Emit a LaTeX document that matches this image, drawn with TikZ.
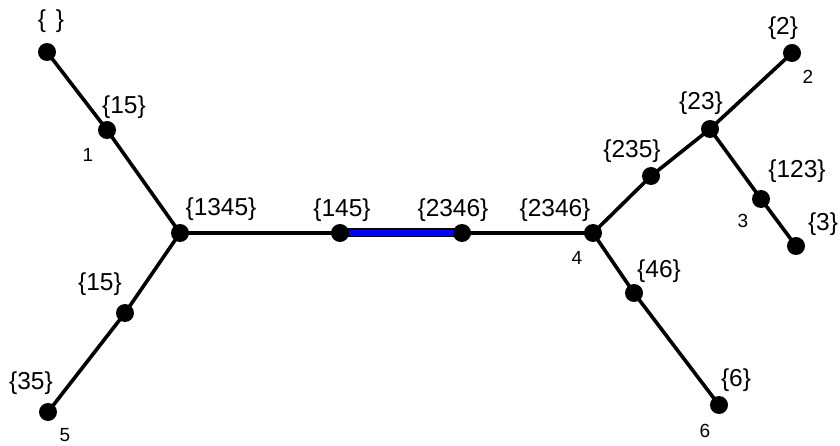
\documentclass[tikz,border=0pt]{standalone}
\usepackage{fontspec}
\setmainfont{Liberation Sans}
\begin{document}
\begin{tikzpicture}[x=1pt,y=-1pt,
  dot/.style={circle,fill=black,inner sep=0pt,minimum size=18pt},
  lab/.style={font=\fontsize{24.5}{28}\selectfont,inner sep=0pt},
  num/.style={font=\fontsize{19}{22}\selectfont,inner sep=0pt},
  edge/.style={line width=3.6pt,black},
  hedge/.style={line width=6pt,blue}]
\useasboundingbox (0,0) rectangle (840,446);
\coordinate (a) at (47,52);
\coordinate (b) at (107,130);
\coordinate (c) at (180,233);
\coordinate (d) at (125,313);
\coordinate (e) at (48,412);
\coordinate (f) at (340,233);
\coordinate (g) at (462,233);
\coordinate (h) at (593,233);
\coordinate (i) at (651,176);
\coordinate (j) at (710,129);
\coordinate (k) at (792,53);
\coordinate (l) at (761,199);
\coordinate (m) at (796,246);
\coordinate (n) at (634,293);
\coordinate (o) at (719,405);
\draw[edge] (a) -- (b) -- (c) -- (d) -- (e);
\draw[edge] (c) -- (f);
\draw[line width=9pt,black] (f) -- (g);
\draw[hedge] (f) -- (g);
\draw[edge] (g) -- (h) -- (i) -- (j) -- (k);
\draw[edge] (j) -- (l) -- (m);
\draw[edge] (h) -- (n) -- (o);
\foreach \p in {a,b,c,d,e,f,g,h,i,j,k,l,m,n,o} \node[dot] (n\p) at (\p) {};
\node[lab] (la) at (51,21) {\{\hspace{0.4em}\}};
\node[lab] (lb) at (124,107) {\{15\}};
\node[lab] (lc) at (221,209) {\{1345\}};
\node[lab] (ld) at (100,284) {\{15\}};
\node[lab] (le) at (31,383) {\{35\}};
\node[lab] (lf) at (342,210) {\{145\}};
\node[lab] (lg) at (453,210) {\{2346\}};
\node[lab] (lh) at (555,210) {\{2346\}};
\node[lab] (li) at (632,151) {\{235\}};
\node[lab] (lj) at (701,103) {\{23\}};
\node[lab] (lk) at (783,28) {\{2\}};
\node[lab] (ll) at (797,171) {\{123\}};
\node[lab] (lm) at (823,224) {\{3\}};
\node[lab] (ln) at (659,271) {\{46\}};
\node[lab] (lo) at (736,380) {\{6\}};
\node[num] (t1) at (88,155) {1};
\node[num] (t5) at (65,435) {5};
\node[num] (t4) at (577,258) {4};
\node[num] (t2) at (808,77) {2};
\node[num] (t3) at (743,221) {3};
\node[num] (t6) at (705,431) {6};
\end{tikzpicture}
\end{document}
